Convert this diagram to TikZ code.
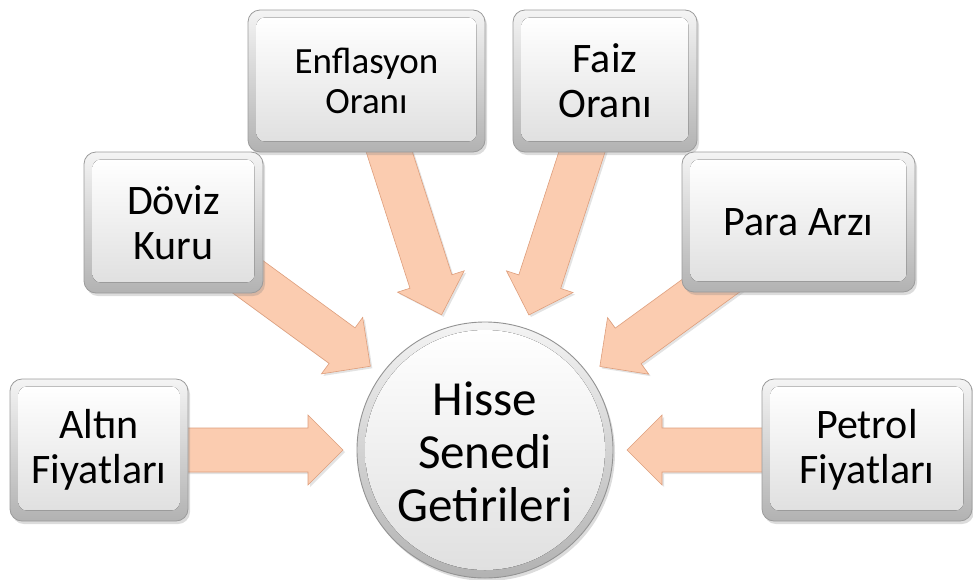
\documentclass[tikz,border=0pt]{standalone}
\usepackage{fontspec}
\setmainfont{Carlito}
\usetikzlibrary{calc,shadows}
\pgfdeclarelayer{bg}
\pgfsetlayers{bg,main}
\definecolor{arrowfill}{RGB}{251,204,176}
\definecolor{arrowedge}{RGB}{222,158,124}
\definecolor{boxedge}{RGB}{155,155,155}
\definecolor{bevtop}{RGB}{244,244,244}
\definecolor{bevbot}{RGB}{178,178,178}
\definecolor{facebot}{RGB}{224,224,224}
\tikzset{
  boxouter/.style={draw=boxedge, line width=0.8pt, rounded corners=12pt,
    top color=bevtop, bottom color=bevbot, inner sep=0pt,
    drop shadow={opacity=0.28, shadow xshift=2pt, shadow yshift=-3pt}},
  boxface/.style={rounded corners=8pt, top color=white, bottom color=facebot},
  boxtext/.style={align=center, inner sep=0pt, text=black,
    font=\fontsize{42}{45}\selectfont},
  hubouter/.style={circle, draw=gray!85, line width=0.9pt, inner sep=0pt,
    top color=bevtop, bottom color=bevbot,
    drop shadow={opacity=0.28, shadow xshift=2pt, shadow yshift=-3pt}},
  hubface/.style={top color=white, bottom color=facebot},
  blockarrow/.style={fill=arrowfill, draw=arrowedge, line width=0.6pt,
    line join=miter,
    drop shadow={opacity=0.22, shadow xshift=2pt, shadow yshift=-2pt}},
}
% name, x, y, width, height, text, font
\newcommand\bevbox[7]{%
  \node[boxouter, minimum width=#4, minimum height=#5] (#1) at (#2,#3) {};
  \fill[boxface] ([shift={(9pt,-8pt)}]#1.north west) rectangle ([shift={(-9pt,11pt)}]#1.south east);
  \node[boxtext, font=#7] (#1-t) at (#1.center) {#6};
}
% box node, hub node, tip coordinate name
\newcommand\radarrow[3]{%
  \coordinate (#3) at ($(#2.center)!142pt!(#1.center)$);
  \draw[blockarrow] let \p1=(#1.center), \p2=(#3), \n1={atan2(\y1-\y2,\x1-\x2)} in
    (\p2) -- ($(\p2)+(\n1:35pt)+(\n1+90:35pt)$)
    -- ($(\p2)+(\n1:35pt)+(\n1+90:22pt)$)
    -- ($(\p1)+(\n1+90:22pt)$)
    -- ($(\p1)+(\n1-90:22pt)$)
    -- ($(\p2)+(\n1:35pt)+(\n1-90:22pt)$)
    -- ($(\p2)+(\n1:35pt)+(\n1-90:35pt)$) -- cycle;
}
\begin{document}
\begin{tikzpicture}
\useasboundingbox (0pt,0pt) rectangle (973pt,-579pt);
\def\std{\fontsize{42}{45}\selectfont}
\bevbox{alt}{99pt}{-450pt}{178pt}{142pt}{Altın\\Fiyatları}{\std}
\bevbox{dov}{173.5pt}{-222.5pt}{179pt}{141pt}{Döviz\\Kuru}{\std}
\bevbox{enf}{366.5pt}{-81pt}{237pt}{142pt}{Enflasyon\\Oranı}{\fontsize{37}{40}\selectfont}
\bevbox{faiz}{605pt}{-81pt}{184pt}{142pt}{Faiz\\Oranı}{\std}
\bevbox{para}{798.5pt}{-222pt}{233pt}{140pt}{Para Arzı}{\std}
\bevbox{pet}{867pt}{-450pt}{210pt}{142pt}{Petrol\\Fiyatları}{\std}
\node[hubouter, minimum size=256pt] (hub) at (485pt,-450pt) {};
\fill[hubface] (hub.center) circle (120pt);
\node[boxtext, font=\fontsize{49}{53}\selectfont] (hub-t) at ([yshift=-2pt]hub.center) {Hisse\\Senedi\\Getirileri};
\begin{pgfonlayer}{bg}
\radarrow{alt}{hub}{tipalt}
\radarrow{dov}{hub}{tipdov}
\radarrow{enf}{hub}{tipenf}
\radarrow{faiz}{hub}{tipfaiz}
\radarrow{para}{hub}{tippara}
\radarrow{pet}{hub}{tippet}
\end{pgfonlayer}
\end{tikzpicture}
\end{document}
